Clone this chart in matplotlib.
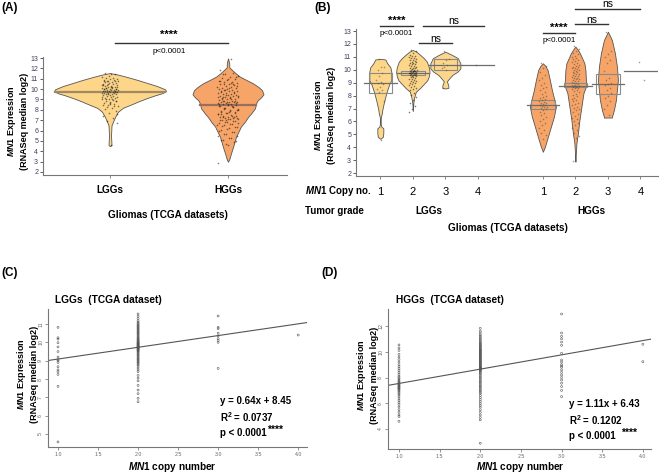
import numpy as np
import matplotlib
matplotlib.use('Agg')
import matplotlib.pyplot as plt
from matplotlib.patches import Rectangle
from matplotlib.transforms import blended_transform_factory

plt.rcParams['font.family'] = ['Liberation Sans', 'DejaVu Sans']
plt.rcParams['mathtext.fontset'] = 'custom'
plt.rcParams['mathtext.it'] = 'Liberation Sans:italic:bold'
plt.rcParams['mathtext.rm'] = 'Liberation Sans:bold'
plt.rcParams['mathtext.bf'] = 'Liberation Sans:bold'

# ---------------- data ----------------
grades = ['LGGs', 'HGGs']
copy_numbers = [1, 2, 3, 4]
copy_labels = ['1', '2', '3', '4']

lgg_cn1 = [10.82, 10.25, 10.18, 9.98, 9.75, 9.5, 9.2, 9.05, 9.0, 8.9, 8.67, 8.5, 8.4, 8.25, 7.6, 4.57]
lgg_cn2 = [11.55, 11.42, 11.3, 11.18, 11.1, 11.04, 10.98, 10.93, 10.88, 10.84, 10.79, 10.74, 10.7, 10.64,
           10.6, 10.55, 10.5, 10.46, 10.41, 10.36, 10.3, 10.26, 10.21, 10.17, 10.14, 10.1, 10.06, 10.02,
           10.0, 9.97, 9.94, 9.92, 9.9, 9.87, 9.85, 9.82, 9.8, 9.78, 9.76, 9.75, 9.73, 9.7, 9.67, 9.65,
           9.62, 9.6, 9.57, 9.54, 9.5, 9.46, 9.41, 9.35, 9.31, 9.26, 9.2, 9.14, 9.1, 9.05, 9.0, 8.94,
           8.9, 8.84, 8.78, 8.7, 8.6, 8.5, 8.4, 8.2, 8.05, 7.9, 7.65, 7.4, 7.2, 6.95, 6.76]
lgg_cn3 = [11.44, 10.82, 10.75, 10.5, 10.35, 10.2, 10.1, 10.0, 8.58]
lgg_cn4 = [10.4]

hgg_cn1 = [10.53, 10.3, 10.1, 9.8, 9.6, 9.4, 9.2, 9.0, 8.85, 8.7, 8.55, 8.4, 8.25, 8.1, 8.0, 7.9,
           7.8, 7.72, 7.65, 7.58, 7.5, 7.45, 7.4, 7.35, 7.3, 7.25, 7.2, 7.15, 7.1, 7.02, 6.95, 6.85,
           6.75, 6.65, 6.5, 6.35, 6.2, 6.05, 5.9, 5.7, 5.5, 5.3, 5.1, 4.97, 4.6]
hgg_cn2 = [11.82, 11.6, 11.45, 11.3, 11.2, 11.1, 11.0, 10.9, 10.8, 10.72, 10.65, 10.58, 10.5, 10.45,
           10.4, 10.32, 10.25, 10.2, 10.15, 10.1, 10.05, 10.0, 9.95, 9.9, 9.85, 9.8, 9.75, 9.7, 9.65,
           9.6, 9.55, 9.5, 9.45, 9.4, 9.35, 9.3, 9.25, 9.2, 9.15, 9.1, 9.05, 9.0, 8.95, 8.9, 8.85, 8.8,
           8.77, 8.75, 8.72, 8.7, 8.65, 8.6, 8.55, 8.5, 8.42, 8.35, 8.25, 8.15, 8.05, 7.95, 7.85, 7.75,
           7.65, 7.55, 7.45, 7.35, 7.25, 7.15, 7.05, 6.95, 6.85, 6.75, 6.6, 6.45, 6.3, 6.15, 6.0, 5.85,
           5.7, 5.5, 5.3, 5.1, 4.9, 4.71, 2.9]
hgg_cn3 = [12.93, 11.46, 11.2, 11.0, 10.75, 10.5, 9.88, 9.36, 9.2, 9.0, 8.9, 8.8, 8.6, 8.4, 8.2,
           8.0, 7.8, 7.56, 7.3, 7.0, 6.52]
hgg_cn4 = [10.58, 9.23]

# Panel A violin outlines (expression level, relative half-width)
violinA_lgg_y = [4.5, 4.6, 5.5, 6.5, 6.86, 7.3, 7.82, 8.2, 8.47, 8.8, 9.1, 9.4, 9.6, 9.8, 9.98,
                 10.3, 10.6, 10.9, 11.2, 11.4, 11.55]
violinA_lgg_w = [0, 1.5, 1, 1.5, 3, 5, 8, 13, 20, 28, 36, 45, 52, 56, 55, 47, 37, 27, 16, 8, 0]
violinA_hgg_y = [2.99, 3.3, 3.8, 4.4, 4.9, 5.4, 5.9, 6.4, 6.8, 7.3, 7.7, 8.15, 8.6, 8.9, 9.2, 9.5,
                 9.9, 10.2, 10.56, 10.9, 11.2, 11.5, 11.85, 12.1, 12.5, 12.97]
violinA_hgg_w = [0, 1.5, 3, 5, 6.5, 8, 10.5, 13, 16.5, 20, 23.5, 27, 28, 29.5, 33, 35.5, 34, 30.5,
                 25, 18, 12, 8, 4, 1.3, 1.2, 0]
medianA = [9.75, 8.5]

# Panel B violin outlines per copy-number group
violinB = {
    ('LGG', 1): ([4.65, 4.8, 5.1, 5.46, 5.6, 5.8, 6.2, 6.4, 6.63, 6.9, 7.27, 7.6, 7.9, 8.2, 8.56, 8.9,
                  9.2, 9.5, 9.85, 10.2, 10.5, 10.8, 10.85],
                 [0, 2.5, 3, 3, 1, 0.4, 0.4, 0.7, 1.5, 2, 3, 4, 5, 6, 7.5, 9, 11, 11, 11, 10, 7, 5, 0]),
    ('LGG', 2): ([6.8, 7.5, 7.9, 8.3, 8.57, 8.9, 9.2, 9.5, 9.85, 10.2, 10.63, 10.9, 11.15, 11.4, 11.53],
                 [0, 0.6, 1.5, 3, 7, 11, 14.5, 16, 16.7, 16, 14, 11, 7.5, 3.5, 0]),
    ('LGG', 3): ([8.55, 8.6, 8.8, 9.0, 9.1, 9.34, 9.6, 9.85, 10.1, 10.5, 10.9, 11.15, 11.4],
                 [0, 3, 3, 2, 1.5, 4, 7, 12, 15, 15, 12.5, 6.7, 0]),
    ('HGG', 1): ([3.65, 4.04, 4.81, 5.59, 6.36, 7.14, 7.66, 8.43, 9.2, 9.98, 10.3, 10.5],
                 [0, 2, 5, 8, 11, 13, 11.5, 9, 7, 4.7, 2.5, 0]),
    ('HGG', 2): ([2.88, 3.5, 4.3, 5.08, 6.1, 7.14, 8.18, 8.82, 9.2, 9.98, 10.5, 11.28, 11.6, 11.79],
                 [0, 0.4, 1, 2.5, 4, 6, 8, 11, 10.5, 10, 9, 4.5, 2, 0]),
    ('HGG', 3): ([6.3, 6.36, 6.88, 7.66, 8.43, 9.2, 10.24, 11.28, 12.3, 12.95],
                 [4, 4, 6, 8, 9, 10, 9, 7, 4, 0]),
}
# box statistics panel B: (q1, median, q3)
boxB = {
    ('LGG', 1): (8.2, 9.0, 9.77), ('LGG', 2): (9.62, 9.75, 9.9), ('LGG', 3): (10.0, 10.35, 10.82),
    ('LGG', 4): (10.4, 10.4, 10.4),
    ('HGG', 1): (6.94, 7.3, 7.66), ('HGG', 2): (8.64, 8.78, 9.0), ('HGG', 3): (8.1, 8.88, 9.65),
    ('HGG', 4): (9.9, 9.9, 9.9),
}
sigB = [(1, 2, 13.4, '****', 'p<0.0001'), (2.2, 3.2, 12.05, 'ns', ''), (2.3, 4.2, 13.4, 'ns', ''),
        (6, 7, 12.83, '****', 'p<0.0001'), (7, 8, 13.53, 'ns', ''), (7, 9, 14.72, 'ns', '')]

reg_slope = [0.64, 1.11]
reg_intercept = [8.45, 6.43]
reg_r2 = ['0.0737', '0.1202']

# ---------------- helpers ----------------
W, H = 666, 475
fig = plt.figure(figsize=(6.66, 4.75), dpi=100)


def rect(l, t, r, b):
    return [l / W, 1 - b / H, (r - l) / W, (b - t) / H]


def fx(x):
    return x / W


def fy(y):
    return 1 - y / H


def jitter(n, spread):
    k = np.arange(n)
    return ((k * 0.6180339887 + 0.3) % 1.0 - 0.5) * 2 * spread


EDGE = '#555555'
C_LGG = '#FDD68A'
C_HGG = '#F6A467'
TICKC = '#404060'
YLAB = '$\\mathit{MN1}$ Expression\n(RNASeq median log2)'


def style_axes(ax):
    for s in ['top', 'right']:
        ax.spines[s].set_visible(False)
    for s in ['left', 'bottom']:
        ax.spines[s].set_color('#777777')
        ax.spines[s].set_linewidth(0.8)


# ---------------- Panel A ----------------
axA = fig.add_axes(rect(43, 57, 287, 175))
axA.set_xlim(0.432, 2.5)
axA.set_ylim(1.71, 13.1)
style_axes(axA)
pxA = 118.0
pooled = [lgg_cn1 + lgg_cn2 + lgg_cn3 + lgg_cn4, hgg_cn1 + hgg_cn2 + hgg_cn3 + hgg_cn4]
profA = [(violinA_lgg_y, violinA_lgg_w), (violinA_hgg_y, violinA_hgg_w)]
colsA = [C_LGG, C_HGG]
medcol = ['#A08A64', '#9A6E5A']
for i in range(2):
    x = i + 1
    vy = np.array(profA[i][0])
    vw = np.array(profA[i][1]) / pxA
    axA.fill_betweenx(vy, x - vw, x + vw, facecolor=colsA[i], edgecolor=EDGE, lw=0.6, zorder=2)
    wm = np.interp(medianA[i], vy, vw)
    axA.plot([x - wm, x + wm], [medianA[i]] * 2, color=medcol[i], lw=1.6, zorder=3)
    vals = np.array(pooled[i])
    axA.scatter(x + jitter(len(vals), 0.07 if i == 0 else 0.09), vals, s=1.3, c='#111111',
                alpha=0.55, lw=0, zorder=4)
axA.set_xticks([1, 2])
axA.set_xticklabels(grades, fontsize=7.2, fontweight='bold')
axA.set_yticks(range(2, 14))
axA.tick_params(axis='y', labelsize=5, colors=TICKC, length=2, pad=1.5, width=0.6)
axA.tick_params(axis='x', length=2, pad=5, width=0.6, color='#777777')
axA.plot([1.04, 2.0], [14.45, 14.45], color='#333333', lw=1.0, clip_on=False)
axA.text(1.5, 15.2, '****', ha='center', va='center', fontsize=8, fontweight='bold')
axA.text(1.5, 13.65, 'p<0.0001', ha='center', va='center', fontsize=5.8)
fig.text(fx(168), fy(215), 'Gliomas (TCGA datasets)', ha='center', va='center', fontsize=7.2,
         fontweight='bold')
fig.text(fx(17), fy(121), YLAB, rotation=90, ha='center', va='center', fontsize=6.5,
         fontweight='bold', multialignment='center')

# ---------------- Panel B ----------------
axB = fig.add_axes(rect(356, 29, 658, 176))
axB.set_xlim(0.252, 9.54)
axB.set_ylim(1.77, 13.16)
style_axes(axB)
pxB = 32.5
groups = [('LGG', lgg_cn1, 1, C_LGG), ('LGG', lgg_cn2, 2, C_LGG), ('LGG', lgg_cn3, 3, C_LGG),
          ('LGG', lgg_cn4, 4, C_LGG), ('HGG', hgg_cn1, 1, C_HGG), ('HGG', hgg_cn2, 2, C_HGG),
          ('HGG', hgg_cn3, 3, C_HGG), ('HGG', hgg_cn4, 4, C_HGG)]
xpos = []
for g, vals, cn, col in groups:
    x = cn if g == 'LGG' else cn + 5
    xpos.append(x)
    key = (g, cn)
    if key in violinB:
        vy = np.array(violinB[key][0])
        vw = np.array(violinB[key][1]) / pxB
        axB.fill_betweenx(vy, x - vw, x + vw, facecolor=col, edgecolor=EDGE, lw=0.6, zorder=2)
    q1, med, q3 = boxB[key]
    if q3 > q1:
        axB.add_patch(Rectangle((x - 0.36, q1), 0.72, q3 - q1, facecolor='none',
                                edgecolor='#8a8a8a', lw=0.8, zorder=3))
    axB.plot([x - 0.5, x + 0.5], [med, med], color='#6e6e6e', lw=0.9, zorder=3)
    vals = np.array(vals)
    pc = '#111111' if (g, cn) == ('LGG', 2) else '#5a4a3a'
    axB.scatter(x + jitter(len(vals), 0.12), vals, s=1.3, c=pc, alpha=0.55, lw=0, zorder=4)
axB.set_xticks(xpos)
axB.set_xticklabels(copy_labels * 2, fontsize=8)
axB.set_yticks(range(2, 14))
axB.tick_params(axis='y', labelsize=5, colors=TICKC, length=2, pad=1.5, width=0.6)
axB.tick_params(axis='x', length=2, pad=6, width=0.6, color='#777777')
for x1, x2, lev, lab, sub in sigB:
    axB.plot([x1, x2], [lev, lev], color='#333333', lw=1.0, clip_on=False)
    if lab == '****':
        axB.text((x1 + x2) / 2, lev + 0.4, lab, ha='center', va='center', fontsize=8,
                 fontweight='bold')
    else:
        axB.text((x1 + x2) / 2, lev + 0.36, lab, ha='center', va='center', fontsize=7.5)
    if sub:
        axB.text((x1 + x2) / 2, lev - 0.55, sub, ha='center', va='center', fontsize=5.8)
trB = blended_transform_factory(axB.transData, fig.transFigure)
axB.text(2.5, fy(210.7), grades[0], transform=trB, ha='center', va='center', fontsize=7.2,
         fontweight='bold')
axB.text(7.5, fy(210.7), grades[1], transform=trB, ha='center', va='center', fontsize=7.2,
         fontweight='bold')
fig.text(fx(305), fy(190.7), '$\\mathit{MN1}$ Copy no.', ha='left', va='center', fontsize=7,
         fontweight='bold')
fig.text(fx(305), fy(210.7), 'Tumor grade', ha='left', va='center', fontsize=7,
         fontweight='bold')
fig.text(fx(508), fy(228.3), 'Gliomas (TCGA datasets)', ha='center', va='center', fontsize=7.2,
         fontweight='bold')
fig.text(fx(324), fy(115), YLAB, rotation=90, ha='center', va='center', fontsize=6.5,
         fontweight='bold', multialignment='center')

# ---------------- Panels C & D ----------------
panels = [
    (rect(48, 309, 307, 447), (0.875, 4.11), (4.29, 11.82), [lgg_cn1, lgg_cn2, lgg_cn3, lgg_cn4],
     range(5, 12), 'LGGs  (TCGA dataset)', 0),
    (rect(388, 309, 651, 449), (0.865, 4.10), (2.45, 13.32), [hgg_cn1, hgg_cn2, hgg_cn3, hgg_cn4],
     range(4, 13, 2), 'HGGs  (TCGA dataset)', 1),
]
for r, xl, yl, data, yt, title, k in panels:
    ax = fig.add_axes(r)
    ax.set_xlim(*xl)
    ax.set_ylim(*yl)
    style_axes(ax)
    for cn, vals in zip(copy_numbers, data):
        ax.scatter(np.full(len(vals), cn), vals, s=2.0, facecolors='none', edgecolors='#555555',
                   linewidths=0.4, zorder=3)
    xx = np.array(xl)
    ax.plot(xx, reg_slope[k] * xx + reg_intercept[k], color='#555555', lw=0.8, zorder=2)
    ax.set_xticks(np.arange(1.0, 4.01, 0.5))
    ax.set_xticklabels(['%.1f' % v for v in np.arange(1.0, 4.01, 0.5)])
    ax.set_yticks(list(yt))
    ax.set_yticklabels([str(v) for v in yt], rotation=90, va='center')
    ax.tick_params(labelsize=3.8, colors='#666666', length=2, width=0.5, pad=1.5)

fig.text(fx(55), fy(300), panels[0][5], ha='left', va='center', fontsize=7.3, fontweight='bold')
fig.text(fx(396), fy(300), panels[1][5], ha='left', va='center', fontsize=7.3, fontweight='bold')
for xc in (172, 520):
    fig.text(fx(xc), fy(467), '$\\mathit{MN1}$ copy number', ha='center', va='center',
             fontsize=7.2, fontweight='bold')
fig.text(fx(27), fy(374), YLAB, rotation=90, ha='center', va='center', fontsize=6.5,
         fontweight='bold', multialignment='center')
fig.text(fx(367), fy(375), YLAB, rotation=90, ha='center', va='center', fontsize=6.5,
         fontweight='bold', multialignment='center')

stat_pos = [(220, 401, 267), (569, 404, 621)]
for k, (sx, sy, starx) in enumerate(stat_pos):
    fig.text(fx(sx), fy(sy), 'y = %.2fx + %.2f' % (reg_slope[k], reg_intercept[k]), ha='left',
             va='center', fontsize=7, fontweight='bold')
    fig.text(fx(sx), fy(sy + 16), 'R$^2$ = ' + reg_r2[k], ha='left', va='center', fontsize=7,
             fontweight='bold')
    fig.text(fx(sx), fy(sy + 32), 'p < 0.0001', ha='left', va='center', fontsize=7,
             fontweight='bold')
    fig.text(fx(starx), fy(sy + 29), '****', ha='left', va='center', fontsize=7.5,
             fontweight='bold')

# panel labels
for lab, x, y in [('(A)', 1, 8), ('(B)', 314, 8), ('(C)', 1, 273), ('(D)', 321, 273)]:
    fig.text(fx(x), fy(y), lab, ha='left', va='center', fontsize=8.5, fontweight='bold')

fig.savefig('out.png', dpi=100)
